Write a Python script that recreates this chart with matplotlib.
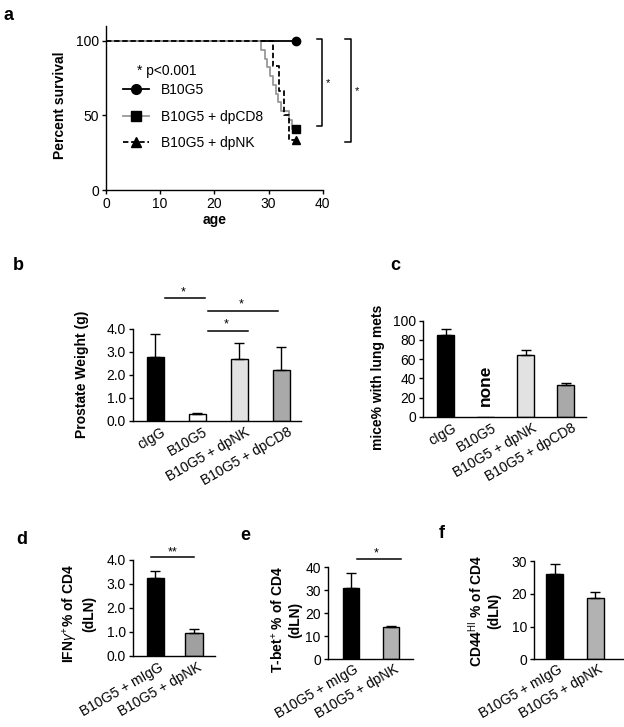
import matplotlib
matplotlib.use('Agg')
import matplotlib.pyplot as plt
from matplotlib.lines import Line2D
import matplotlib.transforms as mtransforms
import numpy as np

plt.rcParams['font.family'] = ['Liberation Sans', 'DejaVu Sans']
plt.rcParams['mathtext.fontset'] = 'custom'
plt.rcParams['mathtext.rm'] = 'Liberation Sans'
plt.rcParams['mathtext.it'] = 'Liberation Sans:italic'
plt.rcParams['mathtext.bf'] = 'Liberation Sans:bold'
plt.rcParams['font.size'] = 10

# ---------------- data ----------------
# panel a: survival
surv_b10g5_t = [0, 35]
surv_b10g5_s = [100, 100]
surv_cd8_t = [0, 28.7, 29.3, 29.8, 30.3, 30.8, 31.3, 31.8, 32.3, 33.7, 34.3, 35]
surv_cd8_s = [100, 94.1, 88.2, 82.4, 76.5, 70.6, 64.7, 58.8, 52.9, 47.1, 41.2, 41.2]
surv_nk_t = [0, 30.8, 31.9, 32.9, 33.8, 35]
surv_nk_s = [100, 83.3, 66.7, 50.0, 33.3, 33.3]
surv_labels = ['B10G5', 'B10G5 + dpCD8', 'B10G5 + dpNK']
age_ticks = [0, 10, 20, 30, 40]
surv_ticks = [0, 50, 100]

# panel b: prostate weight
b_cats = ['cIgG', 'B10G5', 'B10G5 + dpNK', 'B10G5 + dpCD8']
b_vals = [2.8, 0.3, 2.7, 2.2]
b_errs = [1.0, 0.05, 0.7, 1.0]
b_ticks = [0, 1, 2, 3, 4]

# panel c: lung mets
c_cats = ['cIgG', 'B10G5', 'B10G5 + dpNK', 'B10G5 + dpCD8']
c_vals = [85, np.nan, 64, 33]
c_errs = [6, np.nan, 5, 2.5]
c_ticks = [0, 20, 40, 60, 80, 100]

# panels d, e, f
def_cats = ['B10G5 + mIgG', 'B10G5 + dpNK']
d_vals = [3.22, 0.95]
d_errs = [0.3, 0.15]
d_ticks = [0, 1, 2, 3, 4]
e_vals = [31, 14]
e_errs = [6.5, 0.3]
e_ticks = [0, 10, 20, 30, 40]
f_vals = [26, 18.7]
f_errs = [3.3, 2.0]
f_ticks = [0, 10, 20, 30]

# ---------------- layout ----------------
W, H = 624, 727
DPI = 100
fig = plt.figure(figsize=(W / DPI, H / DPI), dpi=DPI)


def add_ax(left, top, right, bottom):
    return fig.add_axes([left / W, 1 - bottom / H, (right - left) / W, (bottom - top) / H])


def ftext(x, y, s, **kw):
    return fig.text(x / W, 1 - y / H, s, **kw)


def style(ax):
    for s in ['top', 'right']:
        ax.spines[s].set_visible(False)
    for s in ['left', 'bottom']:
        ax.spines[s].set_linewidth(1.0)
    ax.tick_params(direction='out', width=1.0, length=3, labelsize=10, pad=2)


# ---------------- panel a ----------------
axa = add_ax(106, 26, 322.7, 190)
style(axa)
axa.step(surv_b10g5_t, surv_b10g5_s, where='post', color='black', lw=1.3)
axa.step(surv_cd8_t, surv_cd8_s, where='post', color='#999999', lw=1.3)
axa.step(surv_nk_t, surv_nk_s, where='post', color='black', lw=1.3, ls=(0, (3, 1.5)))
axa.plot(surv_b10g5_t[-1], surv_b10g5_s[-1], 'o', color='black', ms=6, clip_on=False, zorder=5)
axa.plot(surv_cd8_t[-1], surv_cd8_s[-1], 's', color='black', ms=6, clip_on=False, zorder=5)
axa.plot(surv_nk_t[-1], surv_nk_s[-1], '^', color='black', ms=6, clip_on=False, zorder=5)
axa.set_xlim(0, 40)
axa.set_ylim(0, 110)
axa.set_xticks(age_ticks)
axa.set_yticks(surv_ticks)
axa.spines['left'].set_bounds(0, 110)

handles = [
    Line2D([], [], color='black', lw=1.3, marker='o', ms=7),
    Line2D([], [], color='#999999', lw=1.3, marker='s', ms=7, mfc='black', mec='black'),
    Line2D([], [], color='black', lw=1.3, ls=(0, (3, 1.5)), marker='^', ms=7),
]
fig.legend(handles, surv_labels, loc='upper left',
           bbox_to_anchor=(123 / W, 1 - 83 / H), frameon=False, fontsize=10,
           handlelength=1.85, handletextpad=0.9, labelspacing=0.9,
           borderpad=0, borderaxespad=0)
ftext(137, 71, '* p<0.001', fontsize=10, va='center', ha='left')

# significance brackets (outside axes)
top_v = surv_b10g5_s[-1]
for xv, xt, bot, sx in [(39.8, 38.9, surv_cd8_s[-1] + 2, 41.0),
                        (45.2, 44.1, surv_nk_s[-1] - 1, 46.4)]:
    axa.plot([xt, xv, xv, xt], [top_v + 1.5, top_v + 1.5, bot, bot],
             color='black', lw=1.1, clip_on=False)
    axa.text(sx, (top_v + bot) / 2, '*', fontsize=8, ha='center', va='center', clip_on=False)

ftext(60, 105, 'Percent survival', rotation=90, ha='center', va='center',
      fontweight='bold', fontsize=10)
ftext(215, 220, 'age', ha='center', va='center', fontweight='bold', fontsize=10)


# ---------------- bar panels helper ----------------
def bar_panel(rect, cats, vals, errs, colors, ticks, fmt, xlim, width, ylim,
              lab_dx=6, lab_pad=3):
    ax = add_ax(*rect)
    style(ax)
    x = np.arange(len(cats))
    v = np.array(vals, dtype=float)
    e = np.array(errs, dtype=float)
    ax.bar(x, np.nan_to_num(v), width, color=colors, edgecolor='black', linewidth=1.0,
           zorder=2)
    ax.errorbar(x, v, yerr=[np.zeros_like(e), e], fmt='none', ecolor='black',
                elinewidth=1.0, capsize=3.5, capthick=1.0, zorder=3, clip_on=False)
    ax.set_xlim(*xlim)
    ax.set_ylim(*ylim)
    ax.set_yticks(ticks)
    ax.set_yticklabels([fmt.format(t) for t in ticks])
    ax.set_xticks(x)
    ax.set_xticklabels(cats, rotation=30, ha='right', va='top', rotation_mode='anchor',
                       fontsize=10)
    ax.tick_params(axis='x', length=0, pad=lab_pad)
    off = mtransforms.ScaledTranslation(lab_dx / DPI, 0, fig.dpi_scale_trans)
    for lab in ax.get_xticklabels():
        lab.set_transform(lab.get_transform() + off)
    return ax


# ---------------- panel b ----------------
axb = bar_panel((133, 329, 301, 420.7), b_cats, b_vals, b_errs,
                ['black', 'white', '#e2e2e2', '#a9a9a9'], b_ticks, '{:.1f}',
                (-0.524, 3.476), 0.405, (0, 4))
for x0, x1, y, sy in [(0.24, 1.19, 5.35, 5.6), (1.26, 2.93, 4.8, 5.05), (1.26, 2.21, 3.93, 4.18)]:
    axb.plot([x0, x1], [y, y], color='black', lw=1.1, clip_on=False)
    axb.text((x0 + x1) / 2 - 0.05, sy, '*', fontsize=9, ha='center', va='center')
ftext(82, 374, 'Prostate Weight (g)', rotation=90, ha='center', va='center',
      fontweight='bold', fontsize=10)

# ---------------- panel c ----------------
axc = bar_panel((422.7, 320.7, 586, 416.7), c_cats, c_vals, c_errs,
                ['black', 'white', '#e2e2e2', '#a9a9a9'], c_ticks, '{:d}',
                (-0.575, 3.508), 0.41, (0, 100))
axc.text(1, 33, 'none', rotation=90, ha='center', va='center', fontweight='bold',
         fontsize=12.5)
ftext(378, 377, 'mice% with lung mets', rotation=90, ha='center', va='center',
      fontweight='bold', fontsize=10)

# ---------------- panel d ----------------
axd = bar_panel((133, 559.7, 215, 655.7), def_cats, d_vals, d_errs,
                ['black', '#a0a0a0'], d_ticks, '{:.1f}',
                (-0.576, 1.543), 0.44, (0, 4), lab_dx=3, lab_pad=3)
axd.plot([-0.12, 1.0], [4.1, 4.1], color='black', lw=1.1, clip_on=False)
axd.text(0.44, 4.3, '**', fontsize=9, ha='center', va='center')
ftext(78.5, 614, 'IFN$\\gamma^{+}$% of CD4\n(dLN)', rotation=90, ha='center', va='center',
      fontweight='bold', fontsize=10, linespacing=1.2)

# ---------------- panel e ----------------
axe = bar_panel((327.7, 567.3, 413, 659.3), def_cats, e_vals, e_errs,
                ['black', '#b2b2b2'], e_ticks, '{:d}',
                (-0.583, 1.55), 0.42, (0, 40), lab_dx=3, lab_pad=2)
axe.plot([0.14, 1.25], [43.5, 43.5], color='black', lw=1.1, clip_on=False)
axe.text(0.63, 46, '*', fontsize=9, ha='center', va='center')
ftext(286, 620, 'T-bet$^{+}$ % of CD4\n(dLN)', rotation=90, ha='center', va='center',
      fontweight='bold', fontsize=10, linespacing=1.2)

# ---------------- panel f ----------------
axf = bar_panel((534, 561.3, 623.3, 659.3), def_cats, f_vals, f_errs,
                ['black', '#b2b2b2'], f_ticks, '{:d}',
                (-0.51, 1.69), 0.42, (0, 30), lab_dx=3, lab_pad=2)
ftext(484, 611, 'CD44$^{\\mathrm{HI}}$ % of CD4\n(dLN)', rotation=90, ha='center',
      va='center', fontweight='bold', fontsize=10, linespacing=1.2)

# ---------------- panel letters ----------------
for (px, py, s) in [(9, 15, 'a'), (18, 265, 'b'), (395, 265, 'c'),
                    (22, 540, 'd'), (245, 535, 'e'), (442, 533, 'f')]:
    ftext(px, py, s, fontsize=13, fontweight='bold', ha='center', va='center')

fig.savefig('out.png', dpi=DPI)
